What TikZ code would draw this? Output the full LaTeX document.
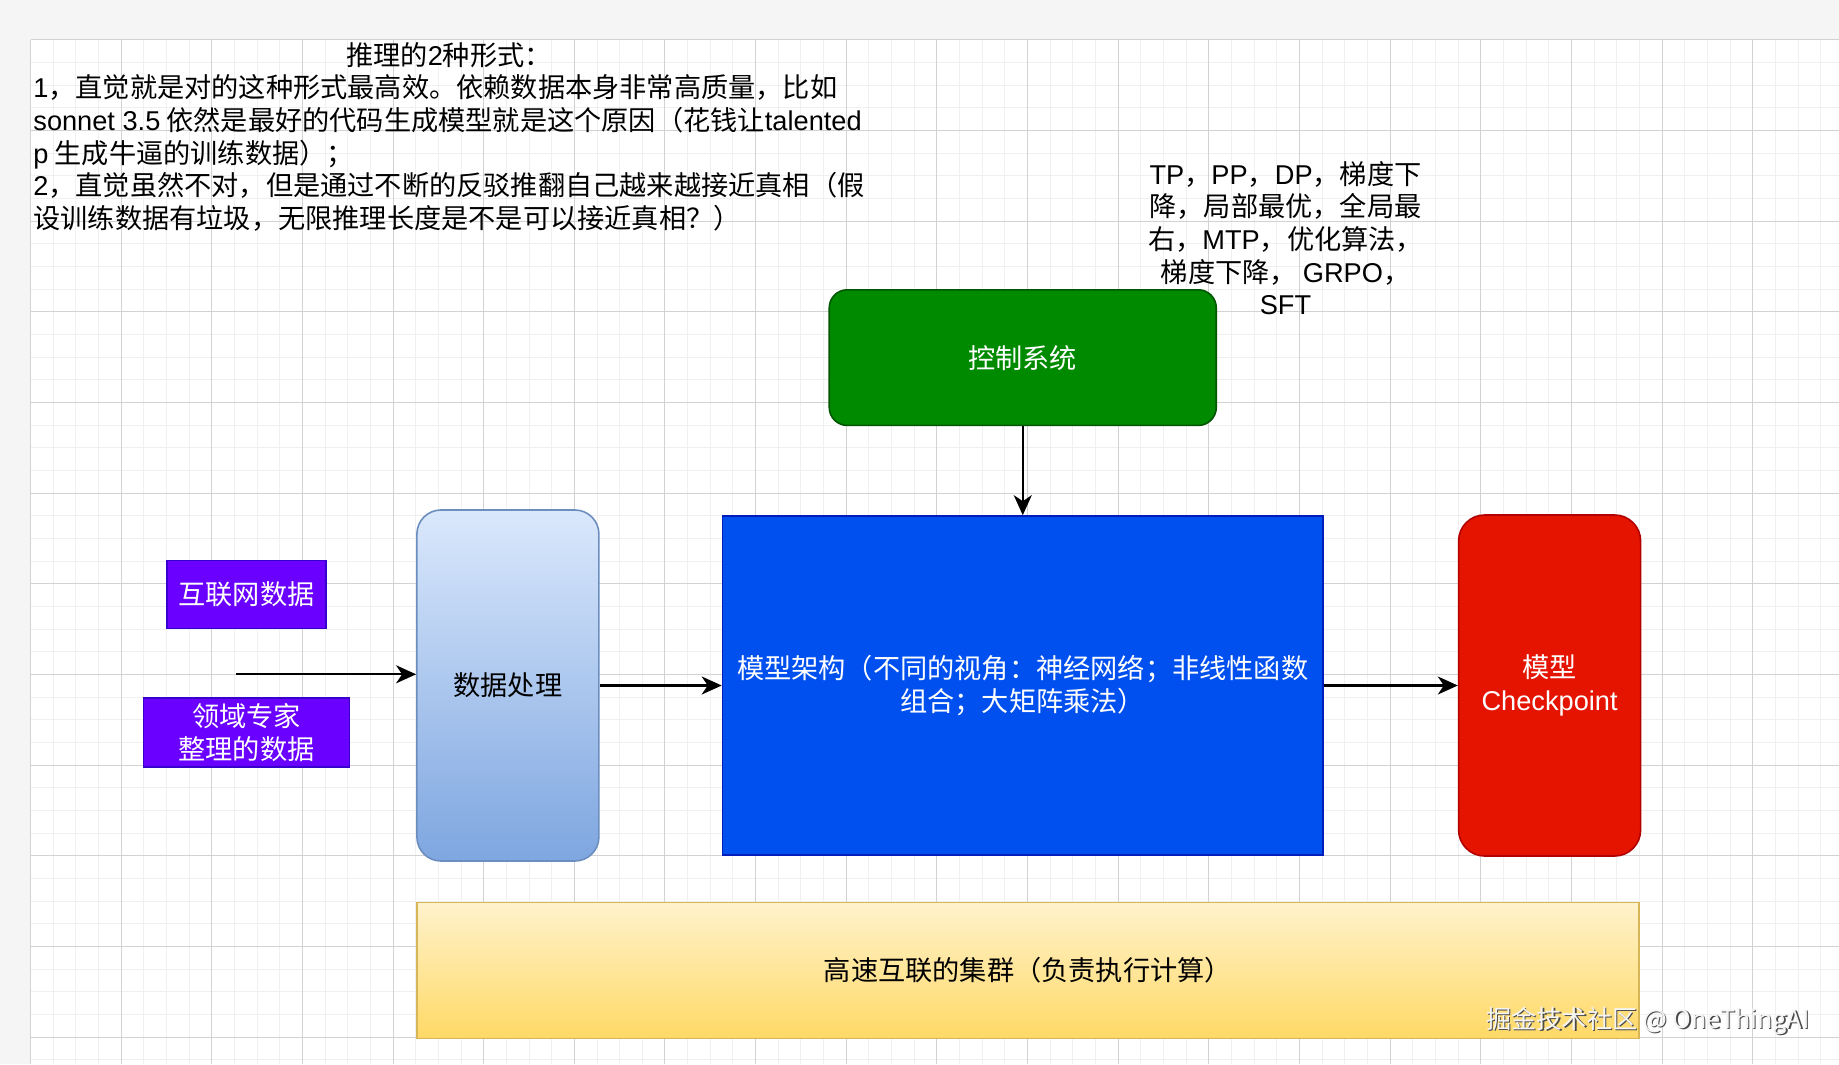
\documentclass[tikz,border=0pt]{standalone}
\usepackage{fontspec}
\setmainfont{Noto Sans CJK SC}
\newfontfamily\latfont{Liberation Sans}
\usetikzlibrary{positioning, arrows.meta}

\definecolor{pagegray}{RGB}{245,245,245}
\definecolor{gridminor}{RGB}{240,240,240}
\definecolor{gridmajor}{RGB}{210,210,210}
\definecolor{purplefill}{HTML}{6A00FF}
\definecolor{purpleline}{HTML}{3700CC}
\definecolor{greenfill}{HTML}{008A00}
\definecolor{greenline}{HTML}{005700}
\definecolor{bluefill}{HTML}{0050EF}
\definecolor{blueline}{HTML}{001DBC}
\definecolor{redfill}{HTML}{E51400}
\definecolor{redline}{HTML}{B20000}
\definecolor{proctop}{HTML}{DAE8FC}
\definecolor{procbottom}{HTML}{7EA6E0}
\definecolor{procline}{HTML}{6C8EBF}
\definecolor{clustertop}{HTML}{FFF2CC}
\definecolor{clusterbottom}{HTML}{FFD966}
\definecolor{clusterline}{HTML}{D6B656}

\newcommand{\dgfont}{\fontsize{13.6pt}{16.32pt}\selectfont}
\newcommand{\markfont}{\fontsize{12.6pt}{15pt}\selectfont}
\newcommand{\lat}[1]{{\latfont #1}}

\begin{document}
\begin{tikzpicture}[x=0.5pt, y=-0.5pt, >={Stealth[length=10pt, width=9pt, inset=3pt]},
    every node/.style={font=\dgfont, inner sep=0pt},
    datasrc/.style={draw=purpleline, fill=purplefill, text=white, line width=0.8pt, align=center},
    ctrlbox/.style={draw=greenline, fill=greenfill, text=white, line width=0.8pt, rounded corners=9pt,
        minimum width=193.5pt, minimum height=67.8pt},
    procbox/.style={draw=procline, top color=proctop, bottom color=procbottom, line width=0.8pt,
        rounded corners=12pt, minimum width=91pt, minimum height=175.5pt},
    modelbox/.style={draw=blueline, fill=bluefill, text=white, line width=0.8pt, align=center,
        minimum width=300.25pt, minimum height=169.5pt},
    ckptbox/.style={draw=redline, fill=redfill, text=white, line width=0.8pt, align=center,
        rounded corners=13pt, minimum width=91pt, minimum height=170.5pt},
    clusterbox/.style={draw=clusterline, top color=clustertop, bottom color=clusterbottom, line width=0.8pt,
        minimum width=611pt, minimum height=68pt},
    flow/.style={->, line width=1.15pt}]
    \useasboundingbox (0,0) rectangle (1839,1064);
    \fill[pagegray] (0,0) rectangle (1839,1064);
    \fill[white] (30.5,40) rectangle (1839,1064);
    \foreach \i in {0,...,79}
        \draw[gridminor, line width=0.5pt] ({30.5+22.66*\i},40) -- ({30.5+22.66*\i},1064);
    \foreach \i in {0,...,45}
        \draw[gridminor, line width=0.5pt] (30.5,{40+22.66*\i}) -- (1839,{40+22.66*\i});
    \foreach \i in {0,...,19}
        \draw[gridmajor, line width=0.5pt] ({30.5+90.64*\i},40) -- ({30.5+90.64*\i},1064);
    \foreach \i in {0,...,11}
        \draw[gridmajor, line width=0.5pt] (30.5,{40+90.64*\i}) -- (1839,{40+90.64*\i});

    \node (title) at (449,55) {推理的\lat{2}种形式：};
    \node[anchor=west, align=left] (forms) at (33,153) {%
        \lat{1}，直觉就是对的这种形式最高效。依赖数据本身非常高质量，比如\\
        \lat{sonnet 3.5} 依然是最好的代码生成模型就是这个原因（花钱让\lat{talented}\\
        \lat{p} 生成牛逼的训练数据）；\\
        \lat{2}，直觉虽然不对，但是通过不断的反驳推翻自己越来越接近真相（假\\
        设训练数据有垃圾，无限推理长度是不是可以接近真相？）};
    \node[align=center] (tricks) at (1285.5,238) {%
        \lat{TP}，\lat{PP}，\lat{DP}，梯度下\\
        降，局部最优，全局最\\
        右，\lat{MTP}，优化算法，\\
        梯度下降， \lat{GRPO}，\\
        \lat{SFT}};

    \node[modelbox] (model) at (1022.75,685.5) {模型架构（不同的视角：神经网络；非线性函数\\组合；大矩阵乘法）};
    \node[ctrlbox] (ctrl) [above = 44.5pt of model] {控制系统};
    \node[procbox] (proc) [left = 61pt of model] {数据处理};
    \node[ckptbox] (ckpt) [right = 67pt of model] {模型\\\lat{Checkpoint}};
    \node[clusterbox] (cluster) [below right = 19.85pt and 0pt of proc.south west] {高速互联的集群（负责执行计算）};

    \node[datasrc, minimum width=79.75pt, minimum height=34pt] (web) at (246.5,594.5) {互联网数据};
    \node[datasrc, minimum width=103pt, minimum height=34.5pt] (expert) [below = 34pt of web] {领域专家\\整理的数据};
    \coordinate (src) at (236,674.3);

    \draw[flow] (src) -- (src -| proc.west);
    \draw[flow] (proc) -- (model);
    \draw[flow] (model) -- (ckpt);
    \draw[flow] (ctrl) -- (model);

    \node[font=\markfont, text=black!70] (markshadow) at (1649.3,1022.3) {掘金技术社区 @ OneThingAI};
    \node[font=\markfont, text=white!96!black] (mark) at (1648,1021) {掘金技术社区 @ OneThingAI};
\end{tikzpicture}
\end{document}
